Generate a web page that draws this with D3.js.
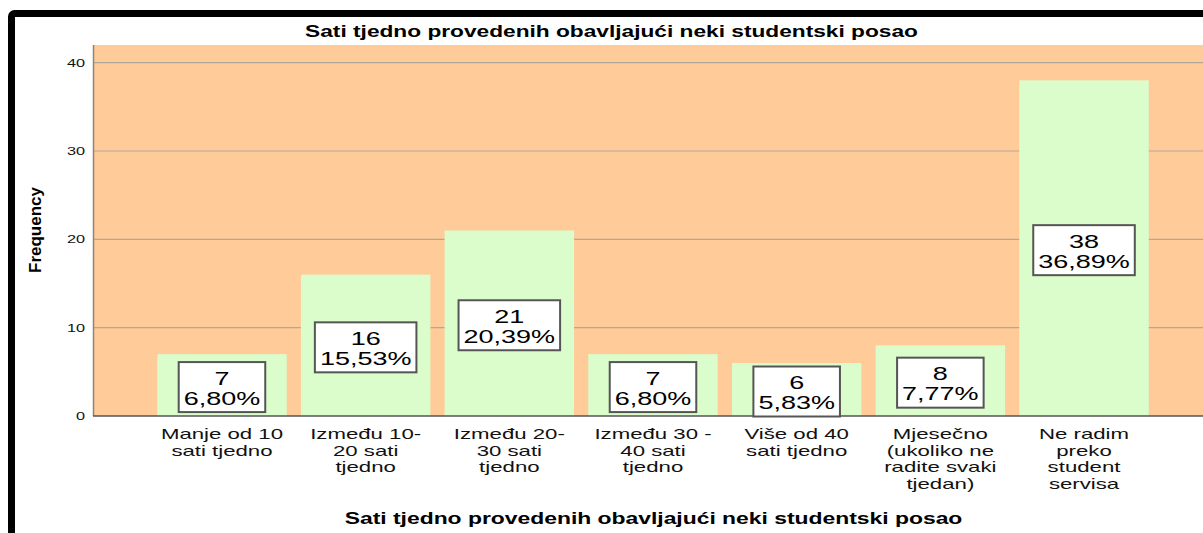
<!DOCTYPE html>
<html>
<head>
<meta charset="utf-8">
<script src="https://cdn.jsdelivr.net/npm/d3@7"></script>
<style>
  html, body { margin: 0; padding: 0; background: #fff; }
  svg { display: block; font-family: "Liberation Sans", Arial, sans-serif; }
</style>
</head>
<body>
<svg id="chart" width="1203" height="533"></svg>
<script>
// ---- Data ----
const categories = [
  ["Manje od 10", "sati tjedno"],
  ["Između 10-", "20 sati", "tjedno"],
  ["Između 20-", "30 sati", "tjedno"],
  ["Između 30 -", "40 sati", "tjedno"],
  ["Više od 40", "sati tjedno"],
  ["Mjesečno", "(ukoliko ne", "radite svaki", "tjedan)"],
  ["Ne radim", "preko", "student", "servisa"]
];
const counts = [7, 16, 21, 7, 6, 8, 38];
const percents = [6.80, 15.53, 20.39, 6.80, 5.83, 7.77, 36.89];
const yTicks = [0, 10, 20, 30, 40];
const titleText = "Sati tjedno provedenih obavljajući neki studentski posao";
const yLabel = "Frequency";

// ---- Layout ----
const svg = d3.select("#chart");
const plot = { left: 93, right: 1213, top: 45, bottom: 416 };

const x = d3.scaleBand()
  .domain(d3.range(categories.length))
  .range([plot.left, plot.right])
  .paddingInner(0.0986)
  .paddingOuter(0.447);

const y = d3.scaleLinear().domain([0, 42]).range([plot.bottom, plot.top]);

function stretchedText(g, tx, ty, str, opts) {
  const t = g.append("text")
    .attr("transform", `translate(${tx},${ty}) scale(${opts.sx || 1},1)`)
    .attr("text-anchor", opts.anchor || "middle")
    .attr("font-size", opts.size)
    .attr("font-weight", opts.weight || "normal")
    .attr("fill", opts.fill || "#000")
    .text(str);
  return t;
}

// Frame
svg.append("rect")
  .attr("x", 11.5).attr("y", 13.5)
  .attr("width", 1200).attr("height", 530)
  .attr("rx", 3)
  .attr("fill", "none").attr("stroke", "#000").attr("stroke-width", 7);

// Plot background
svg.append("rect")
  .attr("x", plot.left).attr("y", plot.top)
  .attr("width", plot.right - plot.left).attr("height", plot.bottom - plot.top)
  .attr("fill", "#fecb99");

// Gridlines
svg.append("g").selectAll("line")
  .data(yTicks.filter(d => d > 0))
  .join("line")
  .attr("x1", plot.left).attr("x2", plot.right)
  .attr("y1", d => y(d)).attr("y2", d => y(d))
  .attr("stroke", "#b3a799").attr("stroke-width", 1.2);

// Bars
svg.append("g").selectAll("rect")
  .data(counts)
  .join("rect")
  .attr("x", (d, i) => x(i))
  .attr("width", x.bandwidth())
  .attr("y", d => y(d))
  .attr("height", d => y(0) - y(d))
  .attr("fill", "#dbfccb");

// Axis lines
svg.append("line")
  .attr("x1", plot.left + 0.5).attr("x2", plot.left + 0.5)
  .attr("y1", plot.top).attr("y2", plot.bottom)
  .attr("stroke", "#8f8478").attr("stroke-width", 1.5);
svg.append("line")
  .attr("x1", plot.left).attr("x2", plot.right)
  .attr("y1", plot.bottom).attr("y2", plot.bottom)
  .attr("stroke", "#555").attr("stroke-width", 1.5);

// Y tick labels
const yTickG = svg.append("g");
yTicks.forEach(v => {
  stretchedText(yTickG, 85, y(v) + 4, String(v), { size: 10.5, sx: 1.55, anchor: "end", fill: "#111" });
});

// Data label boxes
const lblG = svg.append("g");
counts.forEach((c, i) => {
  const cx = x(i) + x.bandwidth() / 2;
  const cy = y(c / 2) + 2;
  const top = cy - 25;
  const g = lblG.append("g");
  const box = g.append("rect");
  const sx = 1.5;
  const t1 = stretchedText(g, cx, top + 22.5, String(c), { size: 18, sx: sx });
  const t2 = stretchedText(g, cx, top + 42.5, percents[i].toFixed(2).replace(".", ",") + "%", { size: 18, sx: sx });
  const w = Math.max(t1.node().getComputedTextLength(), t2.node().getComputedTextLength()) * sx + 10;
  box.attr("x", cx - w / 2).attr("y", top)
    .attr("width", w).attr("height", 50)
    .attr("fill", "#fff").attr("stroke", "#555").attr("stroke-width", 2);
});

// Category labels
const catG = svg.append("g");
categories.forEach((lines, i) => {
  const cx = x(i) + x.bandwidth() / 2;
  lines.forEach((ln, j) => {
    stretchedText(catG, cx, 439 + j * 16.5, ln, { size: 15, sx: 1.48, fill: "#111" });
  });
});

// Titles
stretchedText(svg, 611.5, 36.5, titleText, { size: 16, sx: 1.42, weight: "bold" });
stretchedText(svg, 653.5, 524, titleText, { size: 16, sx: 1.43, weight: "bold" });

// Y axis label
svg.append("text")
  .attr("transform", `translate(41,230) rotate(-90)`)
  .attr("text-anchor", "middle")
  .attr("font-size", 17)
  .attr("font-weight", "bold")
  .text(yLabel);
</script>
</body>
</html>
